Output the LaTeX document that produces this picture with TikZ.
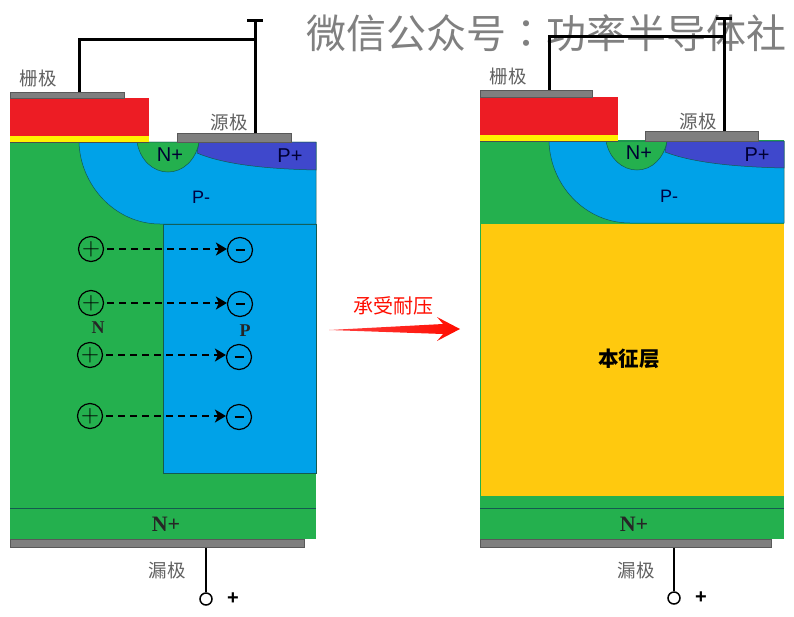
\documentclass[tikz,border=0pt]{standalone}
\usepackage{fontspec}
\setmainfont{Liberation Sans}
\newfontfamily\cjk{Noto Sans CJK SC}
\newfontfamily\cjkpunct{Noto Sans CJK TC}
\newfontfamily\serifbold{Liberation Serif}
\usetikzlibrary{positioning}
\usetikzlibrary{arrows.meta}
\definecolor{sigreen}{RGB}{36,176,78}
\definecolor{siblue}{RGB}{0,162,232}
\definecolor{siviolet}{RGB}{63,72,204}
\definecolor{gatered}{RGB}{237,28,36}
\definecolor{oxideyellow}{RGB}{255,242,0}
\definecolor{intrinsic}{RGB}{255,201,14}
\definecolor{metalgray}{RGB}{127,127,127}
\definecolor{edgedark}{RGB}{20,90,80}
\tikzset{
  region/.style={draw=edgedark, line width=0.5pt},
  metal/.style={fill=metalgray, draw=metalgray!70!black, line width=0.5pt, minimum height=#1, inner sep=0pt, anchor=south west},
  wire/.style={line width=3pt, black},
  terminal/.style={circle, draw=black, line width=1.5pt, minimum size=12pt, inner sep=0pt},
  zhlabel/.style={font=\cjk\fontsize{18.5}{20}\selectfont, text=black!62, inner sep=0pt},
  doping/.style={font=\fontsize{20}{22}\selectfont, text=black!80!blue, inner sep=0pt},
  pminus/.style={font=\fontsize{18}{20}\selectfont, text=black!75!blue, inner sep=0pt},
  dopingbold/.style={font=\serifbold\bfseries\fontsize{#1}{24}\selectfont, text=black!85, inner sep=0pt},
  charge/.style={circle, draw=black, line width=1.2pt, minimum size=25pt, inner sep=0pt, font=\fontsize{24}{24}\selectfont},
  fieldline/.style={line width=1.6pt, dash pattern=on 7pt off 5pt, -{Stealth[inset=3pt,length=11pt,width=13pt]}, shorten <=3pt},
}

\begin{document}
\begin{tikzpicture}[x=1pt, y=-1pt]
  \useasboundingbox (0,0) rectangle (794,616);

  \node [font=\cjk\fontsize{40}{44}\selectfont, text=black!50, inner sep=0pt] (watermark) at (546.5,33) {微信公众号{\cjkpunct ：}功率半导体社};

  % left device
  \fill [sigreen] (10,142) rectangle (316,539);
  \draw [region] (10,508) -- (316,508);
  \draw [region, fill=siblue] (163,224) rectangle (316,473);
  \draw [region, fill=siblue] (79,142) .. controls (80,185) and (115,224) .. (160,224) -- (316,224) -- (316,142) -- cycle;
  \draw [region, fill=siviolet] (199,142) -- (316,142) -- (316,170) .. controls (270,169) and (225,165) .. (197,153) -- cycle;
  \draw [region, fill=sigreen] (137,142) .. controls (140,160) and (153,172) .. (168,172) .. controls (183,172) and (196,160) .. (199,142) -- cycle;
  \fill [gatered] (10,98) rectangle (149,136);
  \fill [oxideyellow] (10,136) rectangle (149,142);
  \draw [black!70, line width=0.5pt] (10,142) -- (149,142);

  \node [metal=6pt, minimum width=114pt] (gateL) at (10,98) {};
  \node [metal=9pt, minimum width=114pt] (sourceL) at (177,142) {};
  \node [metal=8pt, minimum width=294pt, anchor=north west] (drainL) at (10,539) {};

  \coordinate (capL) at (255,20);
  \coordinate (kneeL) at (79,39);
  \draw [wire] (gateL.north -| kneeL) -- (kneeL) -- (kneeL -| capL);
  \draw [wire] (sourceL.north -| capL) -- (capL);
  \draw [wire] ([xshift=-8pt]capL) -- ([xshift=8pt]capL);
  \node [terminal] (termL) at (206,599) {};
  \draw [black, line width=1.8pt] (drainL.south -| termL) -- (termL);
  \node [font=\bfseries\fontsize{20}{20}\selectfont, inner sep=0pt, right=27pt of termL.center, anchor=center] (plusL) {+};

  \node [zhlabel] (gatetextL) at (38,78) {栅极};
  \node [zhlabel] (sourcetextL) at (229,122) {源极};
  \node [zhlabel] (draintextL) at (167,570) {漏极};
  \node [doping] (nplusL) at (170,155) {N+};
  \node [doping] (pplusL) at (290,156) {P+};
  \node [pminus] (pminusL) at (201,197) {P-};
  \node [dopingbold=18] (nL) at (98,328) {N};
  \node [dopingbold=18] (pL) at (245,331) {P};
  \node [dopingbold=22] (nbottomL) at (166,524) {N+};

  \node [charge] (plusA) at (91,249) {$+$};
  \node [charge] (plusB) at (91,303) {$+$};
  \node [charge] (plusC) at (90,355) {$+$};
  \node [charge] (plusD) at (90,416) {$+$};
  \node [charge] (minusA) at (240,250) {\rule{9pt}{1.6pt}};
  \node [charge] (minusB) at (240,304) {\rule{9pt}{1.6pt}};
  \node [charge] (minusC) at (239,357) {\rule{9pt}{1.6pt}};
  \node [charge] (minusD) at (239,417) {\rule{9pt}{1.6pt}};
  \draw [fieldline] (plusA) -- (plusA -| minusA.west);
  \draw [fieldline] (plusB) -- (plusB -| minusB.west);
  \draw [fieldline] (plusC) -- (plusC -| minusC.west);
  \draw [fieldline] (plusD) -- (plusD -| minusD.west);

  % red arrow
  \path [left color=red!75!white, middle color=red!90!orange, right color=red!90!orange] (329,330) -- (443,324) -- (437,317) -- (460,329) -- (437,341) -- (443,334) -- cycle;
  \node [font=\cjk\fontsize{20}{22}\selectfont, text=red!90!orange, inner sep=0pt] (blocktext) at (393,306) {承受耐压};

  % right device
  \fill [sigreen] (480,140) rectangle (784,539);
  \fill [intrinsic] (481,224) rectangle (784,496);
  \draw [region] (480,508) -- (784,508);
  \draw [region, fill=siblue] (549,141) .. controls (550,185) and (585,223) .. (630,223) -- (784,223) -- (784,141) -- cycle;
  \draw [region, fill=siviolet] (667,141) -- (784,141) -- (784,168) .. controls (738,167) and (693,163) .. (665,152) -- cycle;
  \draw [region, fill=sigreen] (606,141) .. controls (609,158) and (622,170) .. (637,170) .. controls (652,170) and (664,158) .. (667,141) -- cycle;
  \fill [gatered] (480,97) rectangle (618,135);
  \fill [oxideyellow] (480,135) rectangle (618,141);
  \draw [black!70, line width=0.5pt] (480,141) -- (618,141);

  \node [metal=7pt, minimum width=112pt] (gateR) at (480,97) {};
  \node [metal=10pt, minimum width=113pt] (sourceR) at (645,141) {};
  \node [metal=8pt, minimum width=291pt, anchor=north west] (drainR) at (480,539) {};

  \coordinate (capR) at (724,18);
  \coordinate (kneeR) at (549,36);
  \draw [wire] (gateR.north -| kneeR) -- (kneeR) -- (kneeR -| capR);
  \draw [wire] (sourceR.north -| capR) -- (capR);
  \draw [wire] ([xshift=-8pt]capR) -- ([xshift=8pt]capR);
  \node [terminal] (termR) at (674,598) {};
  \draw [black, line width=1.8pt] (drainR.south -| termR) -- (termR);
  \node [font=\bfseries\fontsize{20}{20}\selectfont, inner sep=0pt, right=27pt of termR.center, anchor=center] (plusR) {+};

  \node [zhlabel] (gatetextR) at (508,76) {栅极};
  \node [zhlabel] (sourcetextR) at (698,121) {源极};
  \node [zhlabel] (draintextR) at (636,570) {漏极};
  \node [doping] (nplusR) at (639,153) {N+};
  \node [doping] (pplusR) at (757,155) {P+};
  \node [pminus] (pminusR) at (669,196) {P-};
  \node [font=\cjk\bfseries\fontsize{20.5}{22}\selectfont, inner sep=0pt] (intrinsictext) at (629,359) {本征层};
  \node [dopingbold=22] (nbottomR) at (634,524) {N+};
\end{tikzpicture}
\end{document}
